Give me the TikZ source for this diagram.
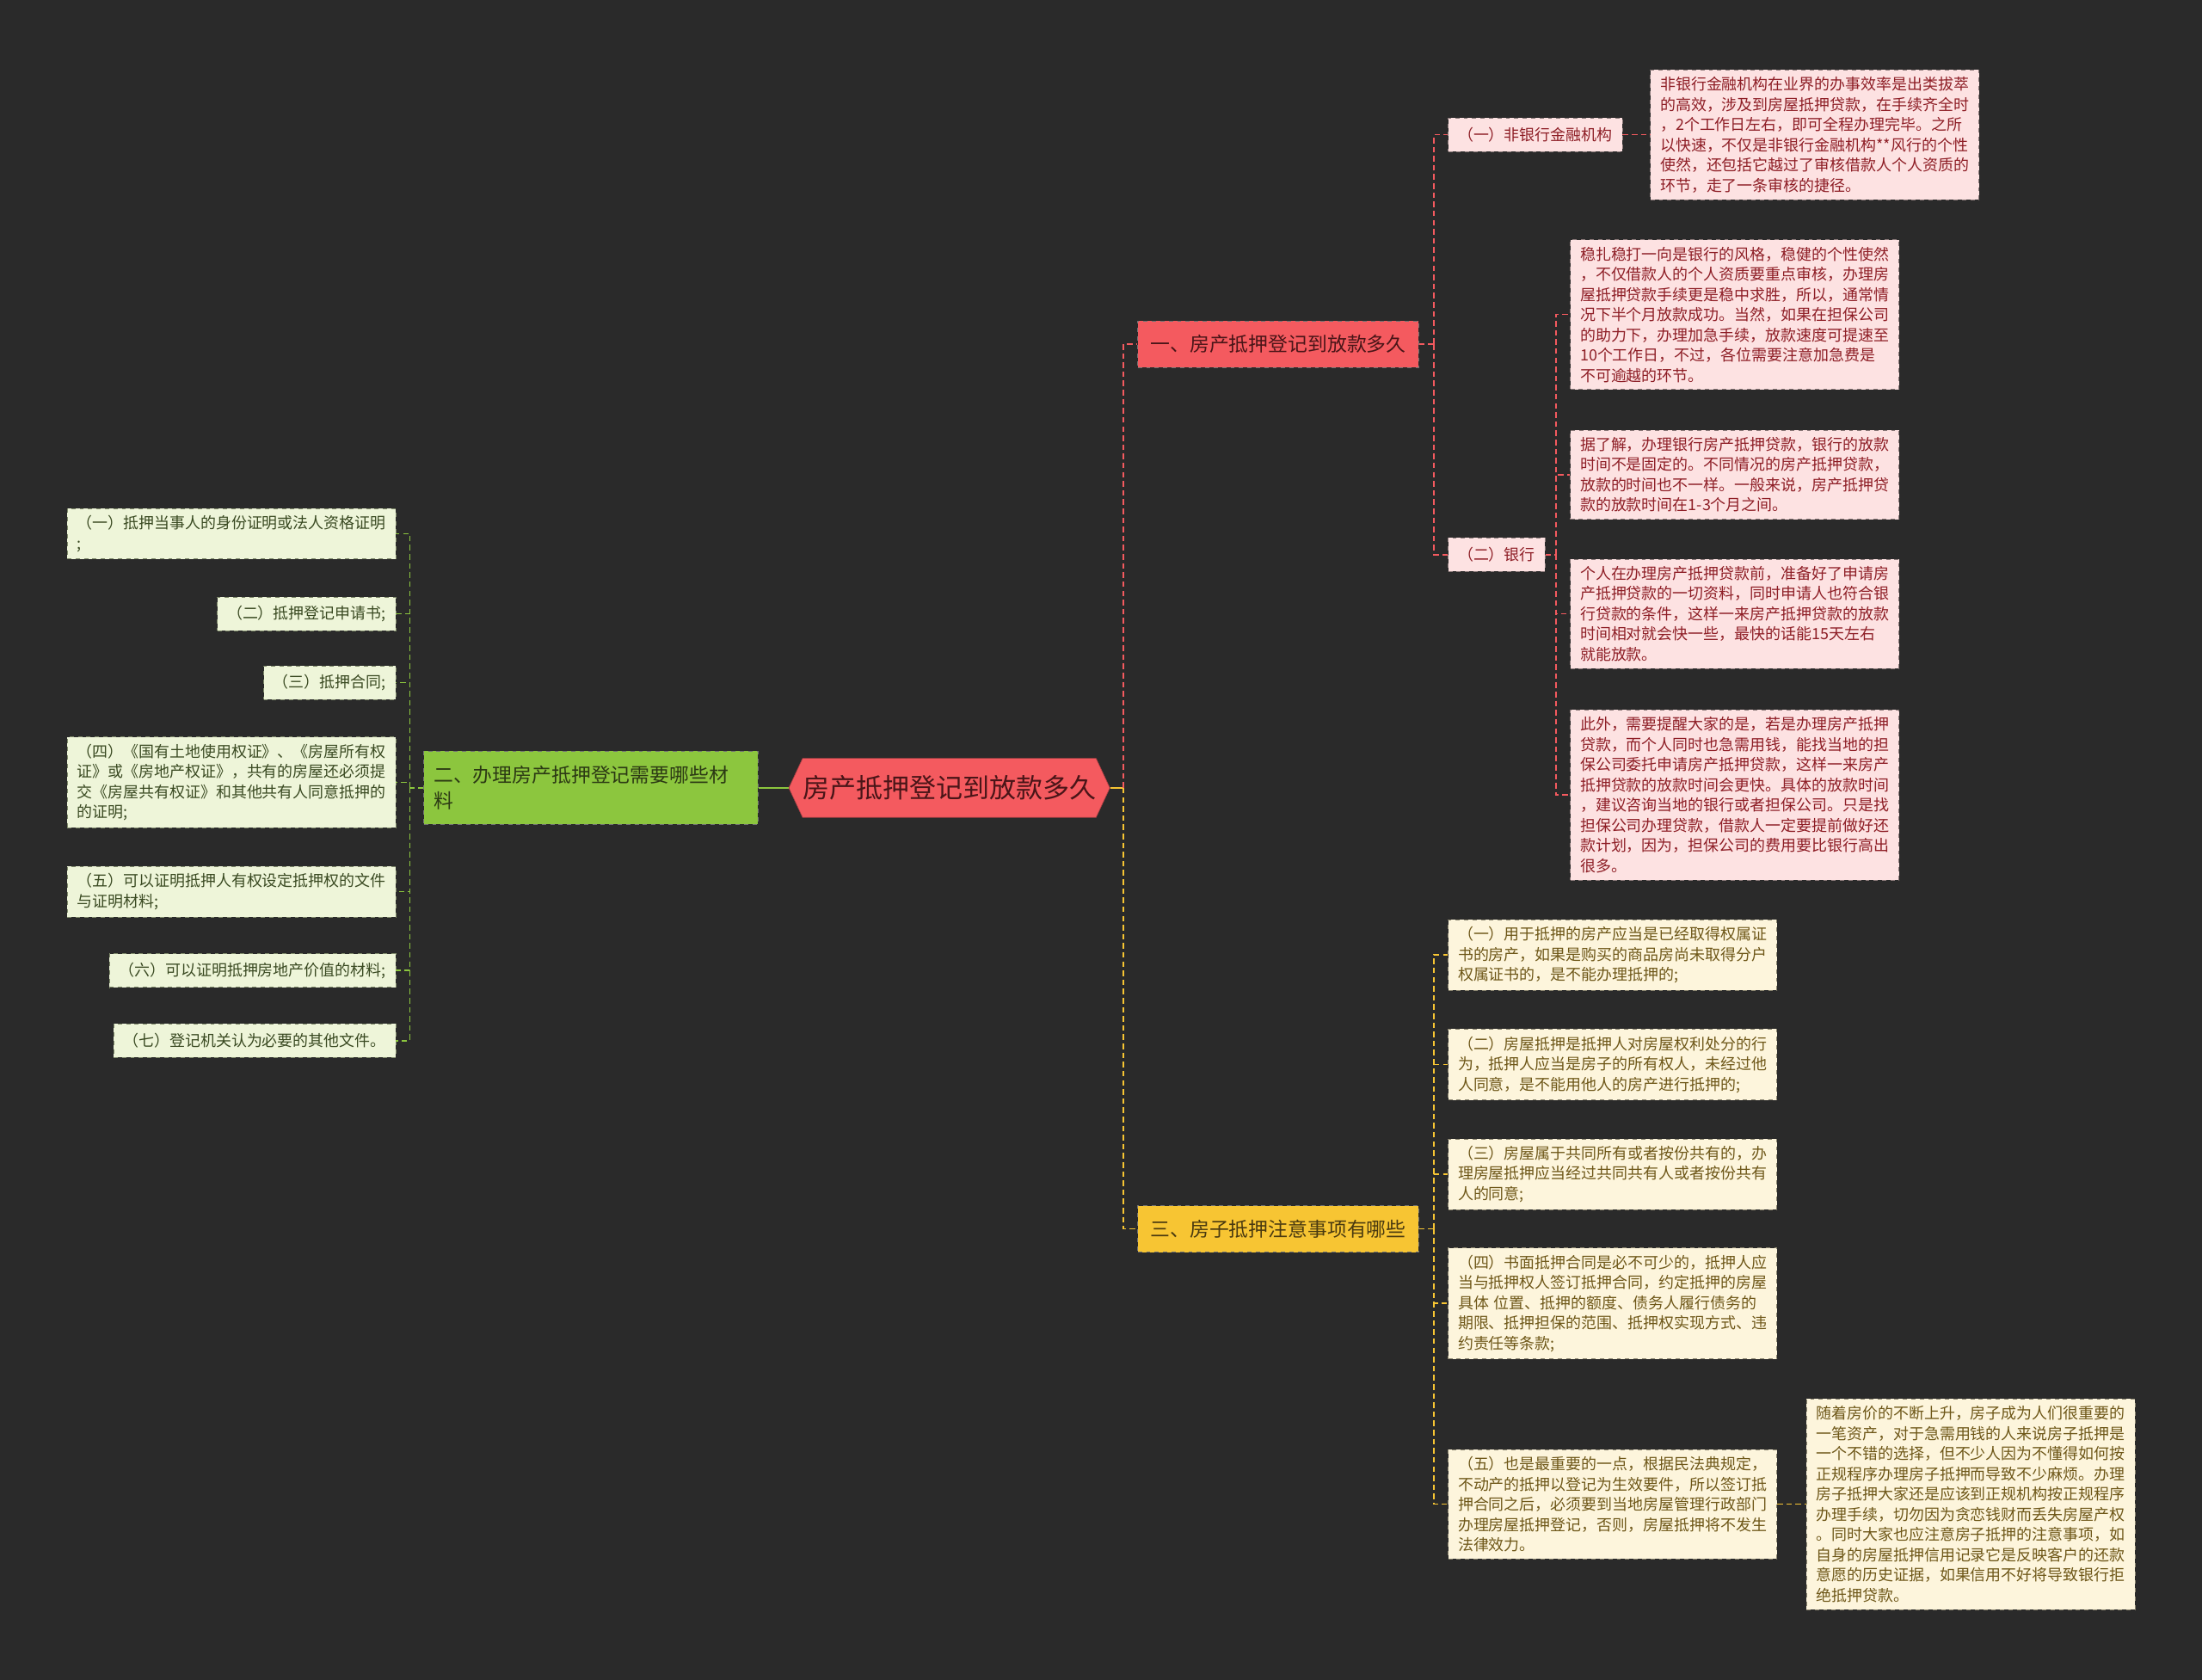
\documentclass[tikz,border=0pt]{standalone}
\usepackage{fontspec}
\setmainfont{Noto Sans CJK SC}
\usepackage{tikz}
\usetikzlibrary{positioning,shapes.symbols,calc}
\definecolor{mapbg}{HTML}{2A2A2A}
\definecolor{mapred}{HTML}{F45A5F}
\definecolor{mapredtext}{HTML}{4A1518}
\definecolor{mapyel}{HTML}{F7C533}
\definecolor{mapyeltext}{HTML}{4A3A10}
\definecolor{mapgrn}{HTML}{8CC63E}
\definecolor{mapgrntext}{HTML}{2C3A14}
\definecolor{pinkfill}{HTML}{FDE2E2}
\definecolor{pinktext}{HTML}{8E1E26}
\definecolor{pinkline}{HTML}{8C7A7A}
\definecolor{creamfill}{HTML}{FDF5DC}
\definecolor{creamtext}{HTML}{6E5718}
\definecolor{creamline}{HTML}{8C8670}
\definecolor{limefill}{HTML}{EEF5D9}
\definecolor{limetext}{HTML}{3A4A22}
\definecolor{limeline}{HTML}{7F8A6A}

\begin{document}
\begin{tikzpicture}[x=1pt,y=-1pt,
  rootbox/.style={signal,signal to=east and west,signal pointer angle=130,fill=mapred,draw=mapred!70!black,
    text=mapredtext,font=\fontsize{19}{22}\selectfont,minimum height=42pt,inner xsep=0pt},
  topic/.style={draw=black!55,dashed,fill=#1,font=\fontsize{14}{18}\selectfont,minimum height=33pt,inner xsep=9pt},
  leaf/.style={dashed,font=\fontsize{11}{14.4}\selectfont,inner xsep=7pt,inner ysep=5pt,minimum height=24pt,align=left},
  pinkleaf/.style={leaf,draw=pinkline,fill=pinkfill,text=pinktext},
  creamleaf/.style={leaf,draw=creamline,fill=creamfill,text=creamtext,text width=220pt},
  limeleaf/.style={leaf,draw=limeline,fill=limefill,text=limetext},
  redln/.style={mapred,line width=0.9pt,dash pattern=on 4pt off 2.5pt},
  yelln/.style={mapyel,line width=0.9pt,dash pattern=on 4pt off 2.5pt},
  grnln/.style={mapgrn,line width=0.9pt,dash pattern=on 4pt off 2.5pt}
]
\useasboundingbox (0,0) rectangle (1568,1196);
\fill[mapbg] (0,0) rectangle (1568,1196);

% centre and main topics
\node[rootbox] (root) at (676,561) {房产抵押登记到放款多久};
\node[topic=mapred,text=mapredtext,anchor=west] (t1) at (810,245) {一、房产抵押登记到放款多久};
\node[topic=mapgrn,text=mapgrntext,anchor=east,align=left,text width=224pt,inner xsep=7pt,minimum height=52pt] (t2) at (540,561) {二、办理房产抵押登记需要哪些材\\料};
\node[topic=mapyel,text=mapyeltext,anchor=west] (t3) at (810,875) {三、房子抵押注意事项有哪些};

% topic one
\node[pinkleaf,anchor=west] (s1) at (1031,96) {（一）非银行金融机构};
\node[pinkleaf,anchor=west] (s2) at (1031,395) {（二）银行};
\node[pinkleaf,anchor=west,text width=220pt] (p1) at (1175,96) {非银行金融机构在业界的办事效率是出类拔萃\\的高效，涉及到房屋抵押贷款，在手续齐全时\\，2个工作日左右，即可全程办理完毕。之所\\以快速，不仅是非银行金融机构**风行的个性\\使然，还包括它越过了审核借款人个人资质的\\环节，走了一条审核的捷径。};
\node[pinkleaf,anchor=west,text width=220pt] (p2) at (1118,224) {稳扎稳打一向是银行的风格，稳健的个性使然\\，不仅借款人的个人资质要重点审核，办理房\\屋抵押贷款手续更是稳中求胜，所以，通常情\\况下半个月放款成功。当然，如果在担保公司\\的助力下，办理加急手续，放款速度可提速至\\10个工作日，不过，各位需要注意加急费是\\不可逾越的环节。};
\node[pinkleaf,anchor=west,text width=220pt] (p3) at (1118,338) {据了解，办理银行房产抵押贷款，银行的放款\\时间不是固定的。不同情况的房产抵押贷款，\\放款的时间也不一样。一般来说，房产抵押贷\\款的放款时间在1-3个月之间。};
\node[pinkleaf,anchor=west,text width=220pt] (p4) at (1118,437) {个人在办理房产抵押贷款前，准备好了申请房\\产抵押贷款的一切资料，同时申请人也符合银\\行贷款的条件，这样一来房产抵押贷款的放款\\时间相对就会快一些，最快的话能15天左右\\就能放款。};
\node[pinkleaf,anchor=west,text width=220pt] (p5) at (1118,566) {此外，需要提醒大家的是，若是办理房产抵押\\贷款，而个人同时也急需用钱，能找当地的担\\保公司委托申请房产抵押贷款，这样一来房产\\抵押贷款的放款时间会更快。具体的放款时间\\，建议咨询当地的银行或者担保公司。只是找\\担保公司办理贷款，借款人一定要提前做好还\\款计划，因为，担保公司的费用要比银行高出\\很多。};

% topic two
\node[limeleaf,anchor=east,text width=220pt] (g1) at (282,380) {（一）抵押当事人的身份证明或法人资格证明\\;};
\node[limeleaf,anchor=east] (g2) at (282,437) {（二）抵押登记申请书;};
\node[limeleaf,anchor=east] (g3) at (282,486) {（三）抵押合同;};
\node[limeleaf,anchor=east,text width=220pt] (g4) at (282,557) {（四）《国有土地使用权证》、《房屋所有权\\证》或《房地产权证》，共有的房屋还必须提\\交《房屋共有权证》和其他共有人同意抵押的\\的证明;};
\node[limeleaf,anchor=east,text width=220pt] (g5) at (282,635) {（五）可以证明抵押人有权设定抵押权的文件\\与证明材料;};
\node[limeleaf,anchor=east] (g6) at (282,691) {（六）可以证明抵押房地产价值的材料;};
\node[limeleaf,anchor=east] (g7) at (282,741) {（七）登记机关认为必要的其他文件。};

% topic three
\node[creamleaf,anchor=west] (c1) at (1031,680) {（一）用于抵押的房产应当是已经取得权属证\\书的房产，如果是购买的商品房尚未取得分户\\权属证书的，是不能办理抵押的;};
\node[creamleaf,anchor=west] (c2) at (1031,758) {（二）房屋抵押是抵押人对房屋权利处分的行\\为，抵押人应当是房子的所有权人，未经过他\\人同意，是不能用他人的房产进行抵押的;};
\node[creamleaf,anchor=west] (c3) at (1031,836) {（三）房屋属于共同所有或者按份共有的，办\\理房屋抵押应当经过共同共有人或者按份共有\\人的同意;};
\node[creamleaf,anchor=west] (c4) at (1031,928) {（四）书面抵押合同是必不可少的，抵押人应\\当与抵押权人签订抵押合同，约定抵押的房屋\\具体 位置、抵押的额度、债务人履行债务的\\期限、抵押担保的范围、抵押权实现方式、违\\约责任等条款;};
\node[creamleaf,anchor=west] (c5) at (1031,1071) {（五）也是最重要的一点，根据民法典规定，\\不动产的抵押以登记为生效要件，所以签订抵\\押合同之后，必须要到当地房屋管理行政部门\\办理房屋抵押登记，否则，房屋抵押将不发生\\法律效力。};
\node[creamleaf,anchor=west] (c6) at (1286,1071) {随着房价的不断上升，房子成为人们很重要的\\一笔资产，对于急需用钱的人来说房子抵押是\\一个不错的选择，但不少人因为不懂得如何按\\正规程序办理房子抵押而导致不少麻烦。办理\\房子抵押大家还是应该到正规机构按正规程序\\办理手续，切勿因为贪恋钱财而丢失房屋产权\\。同时大家也应注意房子抵押的注意事项，如\\自身的房屋抵押信用记录它是反映客户的还款\\意愿的历史证据，如果信用不好将导致银行拒\\绝抵押贷款。};

% junctions
\coordinate (jr) at (800,561);
\coordinate (j1) at (1021,245);
\coordinate (j12) at (1108,395);
\coordinate (j2) at (292,561);
\coordinate (j3) at (1021,875);

\draw[mapyel,line width=1.2pt] (root.east) -- (jr);
\draw[redln] (jr) |- (t1.west);
\draw[yelln] (jr) |- (t3.west);
\draw[mapgrn,line width=1.2pt] (root.west) -- (t2.east);

\draw[redln] (t1.east) -- (j1);
\draw[redln] (j1) |- (s1.west);
\draw[redln] (j1) |- (s2.west);
\draw[redln] (s1.east) -- (p1.west);
\draw[redln] (s2.east) -- (j12);
\foreach \n in {p2,p3,p4,p5}
  \draw[redln] (j12) |- (\n.west);

\draw[grnln] (t2.west) -- (j2);
\foreach \n in {g1,g2,g3,g4,g5,g6,g7}
  \draw[grnln] (j2) |- (\n.east);

\draw[yelln] (t3.east) -- (j3);
\foreach \n in {c1,c2,c3,c4,c5}
  \draw[yelln] (j3) |- (\n.west);
\draw[yelln] (c5.east) -- (c6.west);
\end{tikzpicture}
\end{document}
